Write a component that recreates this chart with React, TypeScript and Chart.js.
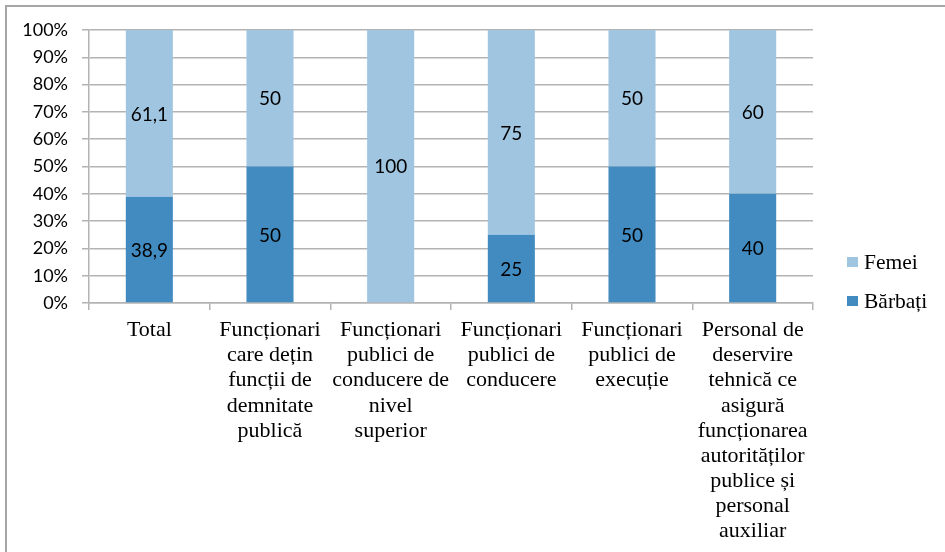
import React, { useEffect, useRef } from "react";
import { Chart, registerables } from "chart.js";

Chart.register(...registerables);

const categories: string[][] = [
  ["Total"],
  ["Funcționari", "care dețin", "funcții de", "demnitate", "publică"],
  ["Funcționari", "publici de", "conducere de", "nivel", "superior"],
  ["Funcționari", "publici de", "conducere"],
  ["Funcționari", "publici de", "execuție"],
  ["Personal de", "deservire", "tehnică ce", "asigură", "funcționarea", "autorităților", "publice și", "personal", "auxiliar"],
];

const barbati: number[] = [38.9, 50, 0, 25, 50, 40];
const femei: number[] = [61.1, 50, 100, 75, 50, 60];

const yTicks: number[] = [0, 10, 20, 30, 40, 50, 60, 70, 80, 90, 100];

const COLOR_B = "#428bc1";
const COLOR_F = "#a0c5e1";
const GRID = "#b3b3b3";

const fmt = (v: number) => String(v).replace(".", ",");

const valueLabels = {
  id: "valueLabels",
  afterDatasetsDraw(chart: any) {
    const ctx = chart.ctx;
    ctx.save();
    ctx.font = "19px Lato";
    ctx.fillStyle = "#000";
    ctx.textAlign = "center";
    ctx.textBaseline = "middle";
    chart.data.datasets.forEach((ds: any, i: number) => {
      const meta = chart.getDatasetMeta(i);
      meta.data.forEach((el: any, j: number) => {
        const v = ds.data[j];
        if (!v) return;
        ctx.fillText(fmt(v), el.x, (el.y + el.base) / 2 + 1);
      });
    });
    ctx.restore();
  },
};

const sideLegend = {
  id: "sideLegend",
  afterDraw(chart: any) {
    const ctx = chart.ctx;
    const items = chart.data.datasets.slice().reverse();
    const x0 = chart.chartArea.right + 34;
    const yStart = 262;
    const gap = 39;
    ctx.save();
    ctx.font = "21.5px 'Liberation Serif'";
    ctx.textBaseline = "middle";
    ctx.textAlign = "left";
    items.forEach((ds: any, k: number) => {
      const y = yStart + k * gap;
      ctx.fillStyle = ds.backgroundColor;
      ctx.fillRect(x0, y - 5, 11, 10);
      ctx.fillStyle = "#000";
      ctx.fillText(ds.label, x0 + 17, y + 1);
    });
    ctx.restore();
  },
};

export default function App() {
  const ref = useRef<HTMLCanvasElement | null>(null);
  useEffect(() => {
    if (!ref.current) return;
    const chart = new Chart(ref.current, {
      type: "bar",
      data: {
        labels: categories,
        datasets: [
          { label: "Bărbați", data: barbati, backgroundColor: COLOR_B, barPercentage: 0.39, categoryPercentage: 1 },
          { label: "Femei", data: femei, backgroundColor: COLOR_F, barPercentage: 0.39, categoryPercentage: 1 },
        ],
      },
      options: {
        responsive: false,
        animation: false,
        layout: { padding: { left: 0, right: 132, top: 30, bottom: 0 } },
        plugins: { legend: { display: false }, tooltip: { enabled: false } },
        scales: {
          x: {
            stacked: true,
            afterFit: (s: any) => { s.height = 249; },
            grid: { display: true, drawOnChartArea: false, drawTicks: true, tickLength: 7, color: GRID, lineWidth: 1.5 },
            border: { display: true, color: GRID, width: 1.5 },
            ticks: {
              color: "#000",
              font: { family: "'Liberation Serif'", size: 22, lineHeight: 1.14 },
              padding: 8,
              maxRotation: 0,
              minRotation: 0,
              autoSkip: false,
            },
          },
          y: {
            stacked: true,
            min: 0,
            max: 100,
            afterFit: (s: any) => { s.width = 89; },
            afterBuildTicks: (s: any) => { s.ticks = yTicks.map((v) => ({ value: v })); },
            grid: { color: GRID, lineWidth: 1.5, tickLength: 7 },
            border: { display: true, color: GRID, width: 1.5 },
            ticks: {
              color: "#000",
              font: { family: "Lato", size: 18 },
              padding: 14,
              callback: (v: any) => v + "%",
            },
          },
        },
      },
      plugins: [valueLabels, sideLegend],
    });
    return () => chart.destroy();
  }, []);
  return (
    <div style={{ position: "fixed", left: 0, top: 0, width: 945, height: 552, overflow: "hidden", background: "#fff" }}>
      <canvas ref={ref} width={945} height={552} style={{ position: "absolute", left: 0, top: 0 }} />
      <div
        style={{
          position: "absolute",
          left: 5,
          top: 5,
          width: 1000,
          height: 1000,
          border: "2px solid #a6a6a6",
          pointerEvents: "none",
        }}
      />
    </div>
  );
}
